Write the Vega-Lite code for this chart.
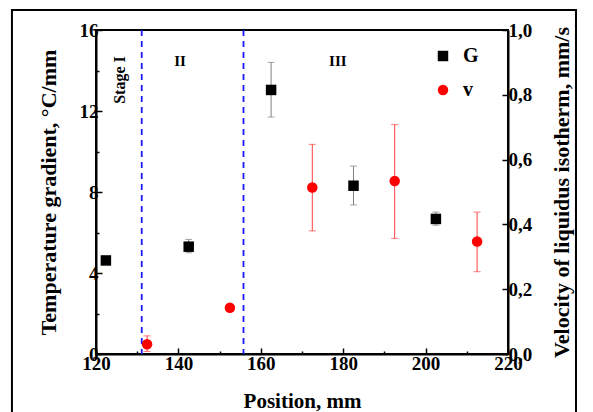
{
  "$schema": "https://vega.github.io/schema/vega-lite/v6.json",
  "width": 412,
  "height": 324,
  "autosize": {"type": "none"},
  "padding": {"left": 96, "top": 30, "right": 85, "bottom": 58},
  "background": "white",
  "config": {
    "view": {"stroke": "black", "strokeWidth": 2},
    "font": "Liberation Serif",
    "axis": {
      "labelFont": "Liberation Serif", "labelFontWeight": "bold", "labelFontSize": 19, "labelColor": "black",
      "titleFont": "Liberation Serif", "titleFontWeight": "bold", "titleFontSize": 22, "titleColor": "black",
      "domainColor": "black", "domainWidth": 2, "tickColor": "black", "tickWidth": 1.5, "grid": false,
      "labelFlush": false
    }
  },
  "datasets": {
    "G": [
      {"pos": 122.4, "G": 4.62, "lo": 4.62, "hi": 4.62, "series": "G"},
      {"pos": 142.5, "G": 5.30, "lo": 5.0, "hi": 5.66, "series": "G"},
      {"pos": 162.5, "G": 13.04, "lo": 11.7, "hi": 14.4, "series": "G"},
      {"pos": 182.5, "G": 8.31, "lo": 7.36, "hi": 9.28, "series": "G"},
      {"pos": 202.5, "G": 6.67, "lo": 6.36, "hi": 7.01, "series": "G"}
    ],
    "v": [
      {"pos": 132.4, "v": 0.030, "lo": 0.008, "hi": 0.056, "series": "v"},
      {"pos": 152.5, "v": 0.143, "lo": 0.143, "hi": 0.143, "series": "v"},
      {"pos": 172.5, "v": 0.514, "lo": 0.38, "hi": 0.647, "series": "v"},
      {"pos": 192.5, "v": 0.534, "lo": 0.357, "hi": 0.708, "series": "v"},
      {"pos": 212.5, "v": 0.347, "lo": 0.254, "hi": 0.438, "series": "v"}
    ],
    "stages": [{"b": 131.1}, {"b": 155.8}],
    "one": [{}]
  },
  "layer": [
    {
      "layer": [
        {
          "data": {"name": "G"},
          "mark": {"type": "rule", "color": "#808080", "strokeWidth": 1},
          "encoding": {
            "x": {"field": "pos", "type": "quantitative", "scale": {"domain": [120, 220], "nice": false},
              "axis": {"orient": "bottom", "values": [120, 130, 140, 150, 160, 170, 180, 190, 200, 210, 220],
                "labelExpr": "datum.value % 20 == 0 ? datum.label : ''",
                "tickSize": {"expr": "datum.value % 20 == 0 ? -6 : -3"}, "labelPadding": 6,
                "title": "Position, mm", "titleFontSize": 21, "titleY": 53, "titleBaseline": "alphabetic"}},
            "y": {"field": "lo", "type": "quantitative", "scale": {"domain": [0, 16], "nice": false},
              "axis": {"orient": "left", "values": [0, 2, 4, 6, 8, 10, 12, 14, 16],
                "labelExpr": "datum.value % 4 == 0 ? datum.label : ''",
                "tickSize": {"expr": "datum.value % 4 == 0 ? -6 : -3"}, "labelPadding": 4,
                "title": "Temperature gradient, °C/mm", "titleX": -36}},
            "y2": {"field": "hi"}
          }
        },
        {
          "data": {"name": "G"},
          "mark": {"type": "tick", "orient": "horizontal", "size": 7, "thickness": 1, "color": "#808080"},
          "encoding": {
            "x": {"field": "pos", "type": "quantitative", "scale": {"domain": [120, 220], "nice": false}},
            "y": {"field": "lo", "type": "quantitative"}
          }
        },
        {
          "data": {"name": "G"},
          "mark": {"type": "tick", "orient": "horizontal", "size": 7, "thickness": 1, "color": "#808080"},
          "encoding": {
            "x": {"field": "pos", "type": "quantitative", "scale": {"domain": [120, 220], "nice": false}},
            "y": {"field": "hi", "type": "quantitative"}
          }
        },
        {
          "data": {"name": "stages"},
          "mark": {"type": "rule", "color": "#1a1aff", "strokeWidth": 1.8, "strokeDash": [6, 5]},
          "encoding": {
            "x": {"field": "b", "type": "quantitative", "scale": {"domain": [120, 220], "nice": false}}
          }
        },
        {
          "data": {"name": "G"},
          "mark": {"type": "point", "filled": true, "opacity": 1, "strokeWidth": 0},
          "encoding": {
            "x": {"field": "pos", "type": "quantitative", "scale": {"domain": [120, 220], "nice": false}},
            "y": {"field": "G", "type": "quantitative"},
            "color": {"field": "series", "type": "nominal", "scale": {"domain": ["G", "v"], "range": ["#000000", "#ff0000"]},
              "legend": {"orient": "none", "legendX": 337, "legendY": 16, "title": null, "labelFontSize": 20, "labelFont": "Liberation Serif", "labelFontWeight": "bold", "labelColor": "black", "symbolSize": 110, "rowPadding": 14, "labelOffset": 10, "symbolStrokeWidth": 0}},
            "shape": {"field": "series", "type": "nominal", "scale": {"domain": ["G", "v"], "range": ["square", "circle"]},
              "legend": {"orient": "none", "legendX": 337, "legendY": 16, "title": null, "labelFontSize": 20, "labelFont": "Liberation Serif", "labelFontWeight": "bold", "labelColor": "black", "symbolSize": 110, "rowPadding": 14, "labelOffset": 10, "symbolStrokeWidth": 0}},
            "size": {"value": 110}
          }
        },
        {
          "data": {"name": "one"},
          "mark": {"type": "text", "text": "Stage I", "angle": 270, "fontSize": 16, "fontWeight": "bold", "font": "Liberation Serif", "align": "center", "baseline": "middle", "color": "black"},
          "encoding": {
            "x": {"datum": 125.8, "type": "quantitative", "scale": {"domain": [120, 220], "nice": false}},
            "y": {"datum": 13.53, "type": "quantitative"}
          }
        },
        {
          "data": {"name": "one"},
          "mark": {"type": "text", "text": "II", "fontSize": 15, "fontWeight": "bold", "font": "Liberation Serif", "align": "center", "baseline": "middle", "color": "black"},
          "encoding": {
            "x": {"datum": 140.4, "type": "quantitative", "scale": {"domain": [120, 220], "nice": false}},
            "y": {"datum": 14.47, "type": "quantitative"}
          }
        },
        {
          "data": {"name": "one"},
          "mark": {"type": "text", "text": "III", "fontSize": 15, "fontWeight": "bold", "font": "Liberation Serif", "align": "center", "baseline": "middle", "color": "black"},
          "encoding": {
            "x": {"datum": 178.7, "type": "quantitative", "scale": {"domain": [120, 220], "nice": false}},
            "y": {"datum": 14.47, "type": "quantitative"}
          }
        },
        {
          "data": {"name": "one"},
          "mark": {"type": "rect", "filled": false, "stroke": "black", "strokeWidth": 2, "clip": false},
          "encoding": {
            "x": {"datum": 99.6, "type": "quantitative", "scale": {"domain": [120, 220], "nice": false}},
            "x2": {"datum": 236.5},
            "y": {"datum": 16.99, "type": "quantitative"},
            "y2": {"datum": -4}
          }
        }
      ]
    },
    {
      "layer": [
        {
          "data": {"name": "v"},
          "mark": {"type": "rule", "color": "#ff4040", "strokeWidth": 1},
          "encoding": {
            "x": {"field": "pos", "type": "quantitative", "scale": {"domain": [120, 220], "nice": false}},
            "y": {"field": "lo", "type": "quantitative", "scale": {"domain": [0, 1], "nice": false},
              "axis": {"orient": "right", "values": [0, 0.1, 0.2, 0.3, 0.4, 0.5, 0.6, 0.7, 0.8, 0.9, 1.0],
                "labelExpr": "round(datum.value * 10) % 2 == 0 ? replace(format(datum.value, '.1f'), '.', ',') : ''",
                "tickSize": {"expr": "round(datum.value * 10) % 2 == 0 ? -6 : -3"}, "labelPadding": 6,
                "title": "Velocity of liquidus isotherm, mm/s", "titleX": 65, "titleAngle": 270}},
            "y2": {"field": "hi"}
          }
        },
        {
          "data": {"name": "v"},
          "mark": {"type": "tick", "orient": "horizontal", "size": 7, "thickness": 1, "color": "#ff4040"},
          "encoding": {
            "x": {"field": "pos", "type": "quantitative", "scale": {"domain": [120, 220], "nice": false}},
            "y": {"field": "lo", "type": "quantitative"}
          }
        },
        {
          "data": {"name": "v"},
          "mark": {"type": "tick", "orient": "horizontal", "size": 7, "thickness": 1, "color": "#ff4040"},
          "encoding": {
            "x": {"field": "pos", "type": "quantitative", "scale": {"domain": [120, 220], "nice": false}},
            "y": {"field": "hi", "type": "quantitative"}
          }
        },
        {
          "data": {"name": "v"},
          "mark": {"type": "point", "filled": true, "opacity": 1, "strokeWidth": 0},
          "encoding": {
            "x": {"field": "pos", "type": "quantitative", "scale": {"domain": [120, 220], "nice": false}},
            "y": {"field": "v", "type": "quantitative"},
            "color": {"field": "series", "type": "nominal", "scale": {"domain": ["G", "v"], "range": ["#000000", "#ff0000"]},
              "legend": {"orient": "none", "legendX": 337, "legendY": 16, "title": null, "labelFontSize": 20, "labelFont": "Liberation Serif", "labelFontWeight": "bold", "labelColor": "black", "symbolSize": 110, "rowPadding": 14, "labelOffset": 10, "symbolStrokeWidth": 0}},
            "shape": {"field": "series", "type": "nominal", "scale": {"domain": ["G", "v"], "range": ["square", "circle"]},
              "legend": {"orient": "none", "legendX": 337, "legendY": 16, "title": null, "labelFontSize": 20, "labelFont": "Liberation Serif", "labelFontWeight": "bold", "labelColor": "black", "symbolSize": 110, "rowPadding": 14, "labelOffset": 10, "symbolStrokeWidth": 0}},
            "size": {"value": 110}
          }
        }
      ]
    }
  ],
  "resolve": {"scale": {"y": "independent"}}
}
